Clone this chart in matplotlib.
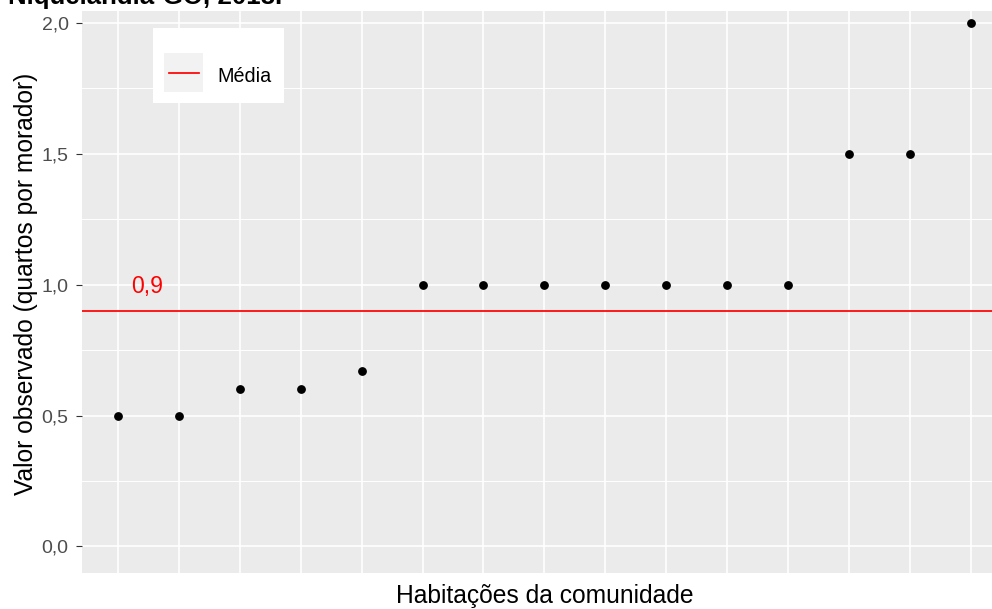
import matplotlib
matplotlib.use("Agg")
import matplotlib.pyplot as plt
from matplotlib.patches import Rectangle
from matplotlib.lines import Line2D
from matplotlib.ticker import MultipleLocator, NullLocator, FixedLocator

# ---- data ----
habitacoes = list(range(1, 16))
valores = [0.5, 0.5, 0.6, 0.6, 0.67, 1.0, 1.0, 1.0, 1.0, 1.0, 1.0, 1.0, 1.5, 1.5, 2.0]
media = 0.9
media_label = "0,9"
y_ticks = [0.0, 0.5, 1.0, 1.5, 2.0]
y_tick_labels = ["0,0", "0,5", "1,0", "1,5", "2,0"]
title_text = "Niquelândia-GO, 2018."
xlabel = "Habitações da comunidade"
ylabel = "Valor observado (quartos por morador)"
legend_label = "Média"

W, H = 992, 609
plt.rcParams['font.family'] = ['Liberation Sans', 'DejaVu Sans']
fig = plt.figure(figsize=(W / 100, H / 100), dpi=100)

# axes geometry (pixel based)
ax_left, ax_right = 81.5, 1007.3
ax_top, ax_bottom = 11.0, 572.5
ax = fig.add_axes([ax_left / W, (H - ax_bottom) / H,
                   (ax_right - ax_left) / W, (ax_bottom - ax_top) / H])
ax.set_facecolor("#EBEBEB")
for s in ax.spines.values():
    s.set_visible(False)

ax.set_xlim(0.4, 15.6)
ax.set_ylim(-0.1, 2.046)

# grid
ax.xaxis.set_major_locator(FixedLocator(habitacoes))
ax.xaxis.set_minor_locator(NullLocator())
ax.yaxis.set_major_locator(FixedLocator(y_ticks))
ax.yaxis.set_minor_locator(MultipleLocator(0.25))
ax.grid(which="major", color="white", linewidth=1.2)
ax.grid(which="minor", axis="y", color="white", linewidth=0.7)
ax.set_axisbelow(True)

ax.set_yticklabels(y_tick_labels)
ax.tick_params(axis="y", which="major", length=4.3, width=0.8, color="#333333",
               labelsize=14, labelcolor="#4D4D4D", pad=5)
ax.tick_params(axis="y", which="minor", length=0)
ax.tick_params(axis="x", which="both", length=0, labelbottom=False)

# data
ax.axhline(media, color="#FF0000", linewidth=1.25, zorder=2)
ax.plot(habitacoes, valores, linestyle="none", marker="o", markersize=5.3,
        color="black", zorder=3)
ax.text(1.48, 0.968, media_label, color="#FF0000", fontsize=16.6,
        ha="center", va="baseline", zorder=4)

# axis titles
ax.set_xlabel(xlabel, fontsize=17.7, color="black")
ax.xaxis.label.set_va("baseline")
ax.xaxis.set_label_coords(0.5, -30.5 / (ax_bottom - ax_top))
ax.set_ylabel(ylabel, fontsize=17.7, color="black", rotation=90,
              rotation_mode="anchor", ha="center", va="baseline")
ax.yaxis.set_label_coords((33 - ax_left) / (ax_right - ax_left),
                          (ax_bottom - 284) / (ax_bottom - ax_top))

# legend (drawn manually, ggplot-like)
def px_rect(x0, y0, x1, y1, **kw):
    return Rectangle((x0 / W, (H - y1) / H), (x1 - x0) / W, (y1 - y0) / H,
                     transform=fig.transFigure, **kw)

fig.add_artist(px_rect(152.7, 28.3, 284.0, 103.3, facecolor="white",
                       edgecolor="none", zorder=5))
fig.add_artist(px_rect(164.3, 53.3, 203.3, 91.7, facecolor="#F2F2F2",
                       edgecolor="none", zorder=6))
fig.add_artist(Line2D([169 / W, 199 / W], [(H - 72.5) / H] * 2,
                      transform=fig.transFigure, color="#FF0000",
                      linewidth=1.25, zorder=7))
fig.text(217.3 / W, (H - 82.3) / H, legend_label, fontsize=14.2,
         color="black", ha="left", va="baseline", zorder=7)

# cropped title at the very top
fig.text(8 / W, (H - 4) / H, title_text, fontsize=18.6, fontweight="bold",
         color="black", ha="left", va="baseline")

fig.savefig("out.png", dpi=100, facecolor="white")
